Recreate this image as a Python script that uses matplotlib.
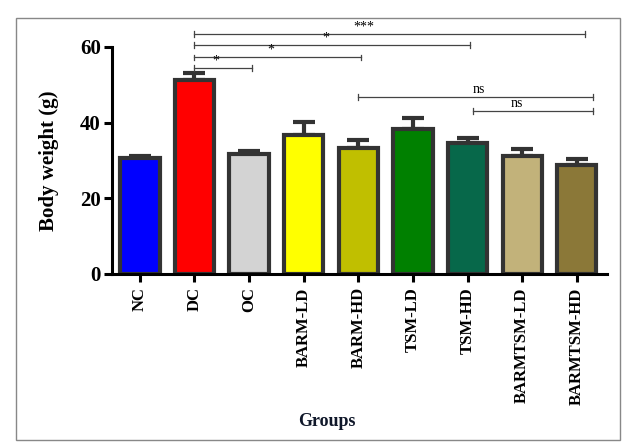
import matplotlib
matplotlib.use("Agg")
import matplotlib.pyplot as plt
from matplotlib.patches import Rectangle

groups = ["NC", "DC", "OC", "BARM-LD", "BARM-HD", "TSM-LD", "TSM-HD", "BARMTSM-LD", "BARMTSM-HD"]
means = [30.6, 51.2, 31.7, 36.7, 33.4, 38.3, 34.7, 31.2, 28.8]
errors = [0.5, 1.8, 0.8, 3.4, 2.0, 2.9, 1.3, 1.8, 1.5]
colors = ["#0000FF", "#FF0000", "#D3D3D3", "#FFFF00", "#C0BF00", "#008000", "#07684A", "#C2B27A", "#8B7838"]

# significance brackets
sig_start = [1, 1, 1, 1, 4, 6.1]
sig_end = [8.15, 6.05, 4.05, 2.05, 8.3, 8.3]
sig_y = [63.4, 60.5, 57.3, 54.4, 46.8, 43.1]
sig_label = ["***", "*", "*", "*", "ns", "ns"]
sig_label_x = [4.1, 3.4, 2.4, 1.4, 6.2, 6.9]

plt.rcParams['font.family'] = ['Liberation Serif', 'DejaVu Serif']

fig = plt.figure(figsize=(6.24, 4.43), dpi=100)
ax = fig.add_axes([0.1795, 0.3815, 0.793, 0.5125])

x = list(range(len(groups)))
ax.bar(x, means, width=0.72, color=colors, edgecolor="#333333", linewidth=3, zorder=2)
ax.errorbar(x, means, yerr=[[0]*len(means), errors], fmt="none", ecolor="#333333",
            elinewidth=3, capsize=8, capthick=3, zorder=1)

ax.set_xlim(-0.51, 8.55)
ax.set_ylim(0, 60)
ax.set_yticks([0, 20, 40, 60])
ax.spines['top'].set_visible(False)
ax.spines['right'].set_visible(False)
ax.spines['left'].set_linewidth(2.2)
ax.spines['bottom'].set_linewidth(2.2)
ax.set_xticks(x)
ax.set_xticklabels(groups, rotation=90, fontsize=12, fontweight="bold")
for lab in ax.get_yticklabels():
    lab.set_fontsize(15)
    lab.set_fontweight("bold")
ax.tick_params(axis="both", length=6, width=2.2, direction="out")
ax.tick_params(axis="y", pad=2)
ax.set_ylabel("Body weight (g)", fontsize=15, fontweight="bold", labelpad=15)

fig.text(0.524, 0.048, "Groups", fontsize=13, fontweight="bold", ha="center", va="center", color="#10182a")

for s, e, y, lab, lx in zip(sig_start, sig_end, sig_y, sig_label, sig_label_x):
    ax.plot([s, e], [y, y], color="#444444", lw=0.9, clip_on=False)
    for xx in (s, e):
        ax.plot([xx, xx], [y - 0.7, y + 0.7], color="#444444", lw=0.9, clip_on=False)
    ax.text(lx, y + 0.2, lab, ha="center", va="bottom", fontsize=10, clip_on=False)

fig.add_artist(Rectangle((16/624, 1 - 440/443), (620-16)/624, (440-18)/443,
                         transform=fig.transFigure, fill=False, edgecolor="#888888", lw=1))

fig.savefig("out.png", dpi=100)
